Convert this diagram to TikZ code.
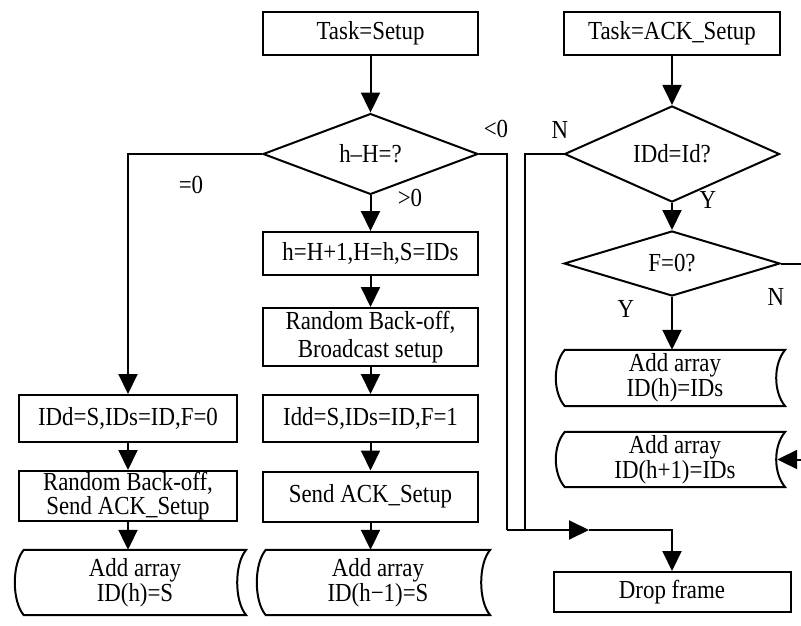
\documentclass[tikz,border=0pt]{standalone}
\usepackage{fontspec}
\setmainfont{Liberation Serif}[FakeStretch=0.88]
\usetikzlibrary{arrows.meta,shapes.geometric}
\begin{document}
\begin{tikzpicture}[x=1pt,y=-1pt,
  every node/.style={font=\fontsize{26}{25}\selectfont, inner sep=0pt, align=center},
  line/.style={line width=2pt},
  box/.style={draw, line width=2pt, rectangle},
  dia/.style={draw, line width=2pt, diamond},
  store/.style={rectangle, draw=none},
  arr/.style={line width=2pt, -{Triangle[length=20pt,width=19pt]}},
]
\useasboundingbox (0,0) rectangle (801,626);
\clip (0,0) rectangle (801,626);

% middle column
\node[box, minimum width=215pt, minimum height=43pt] (ts) at (370.5,33.5) {Task=Setup};
\node[dia, minimum width=215pt, minimum height=64pt] (d1) at (370.5,154) {h–H=?};
\node[box, minimum width=215pt, minimum height=43pt] (hb) at (370.5,253.5) {h=H+1,H=h,S=IDs};
\node[box, minimum width=215pt, minimum height=58pt, font=\fontsize{26}{28}\selectfont] (rb) at (370.5,337) {Random Back-off,\\Broadcast setup};
\node[box, minimum width=215pt, minimum height=47pt] (idd) at (370.5,418.5) {Idd=S,IDs=ID,F=1};
\node[box, minimum width=215pt, minimum height=50pt] (sa) at (370.5,496.5) {Send ACK\_Setup};
\node[store, minimum width=224pt, minimum height=65pt] (a2) at (378,582.5) {Add array\\ID(h−1)=S};

% left column
\node[box, minimum width=218pt, minimum height=47pt] (ids) at (128,418.5) {IDd=S,IDs=ID,F=0};
\node[box, minimum width=218pt, minimum height=50pt, font=\fontsize{26}{24}\selectfont] (rs) at (128,496) {Random Back-off,\\Send ACK\_Setup};
\node[store, minimum width=222pt, minimum height=65pt] (a1) at (135,582.5) {Add array\\ID(h)=S};

% right column
\node[box, minimum width=216pt, minimum height=43pt] (ta) at (672,33.5) {Task=ACK\_Setup};
\node[dia, minimum width=215pt, minimum height=64pt] (d2) at (672,154) {IDd=Id?};
\node[dia, minimum width=216pt, minimum height=65pt] (d3) at (672,263.5) {F=0?};
\node[store, minimum width=220pt, minimum height=56pt] (a3) at (675,378) {Add array\\ID(h)=IDs};
\node[store, minimum width=220pt, minimum height=55pt] (a4) at (675,459.5) {Add array\\ID(h+1)=IDs};
\node[box, minimum width=237pt, minimum height=40pt] (df) at (672,592) {Drop frame};

% stored-data outlines
\foreach \n in {a1,a2,a3,a4}
  \draw[line] (\n.north west) -- (\n.north east)
    .. controls ([xshift=-12pt,yshift=-14pt]\n.north east) and ([xshift=-12pt,yshift=14pt]\n.south east) .. (\n.south east)
    -- (\n.south west)
    .. controls ([xshift=-12pt,yshift=14pt]\n.south west) and ([xshift=-12pt,yshift=-14pt]\n.north west) .. (\n.north west) -- cycle;

% labels
\node (l0) at (191,185) {=0};
\node (lg) at (410,198) {>0};
\node (ll) at (496,129) {<0};
\node (ln1) at (560,130) {N};
\node (ly1) at (708,200) {Y};
\node (ly2) at (626,309) {Y};
\node (ln2) at (776,297) {N};

% junction coordinates
\coordinate (j1) at (507,530);
\coordinate (j2) at (525,530);
\coordinate (m) at (589,530);
\coordinate (e1) at (806,263.5);
\coordinate (e2) at (806,459.5);

% connectors
\draw[arr] (ts.south) -- (d1.north);
\draw[arr] (d1.west) -| (ids.north);
\draw[arr] (d1.south) -- (hb.north);
\draw[arr] (hb.south) -- (rb.north);
\draw[arr] (rb.south) -- (idd.north);
\draw[arr] (idd.south) -- (sa.north);
\draw[arr] (sa.south) -- (sa.south |- a2.north);
\draw[arr] (ids.south) -- (rs.north);
\draw[arr] (rs.south) -- (rs.south |- a1.north);

\draw[line] (d1.east) -| (j1);
\draw[line] (d2.west) -| (j2);
\draw[arr] (j1) -- (m);
\draw[arr] (m) -| (df.north);

\draw[arr] (ta.south) -- (d2.north);
\draw[arr] (d2.south) -- (d3.north);
\draw[arr] (d3.south) -- (d3.south |- a3.north);
\draw[arr] (d3.east) -- (e1) -- (e2) -- ([xshift=-8pt]a4.east);
\end{tikzpicture}
\end{document}
